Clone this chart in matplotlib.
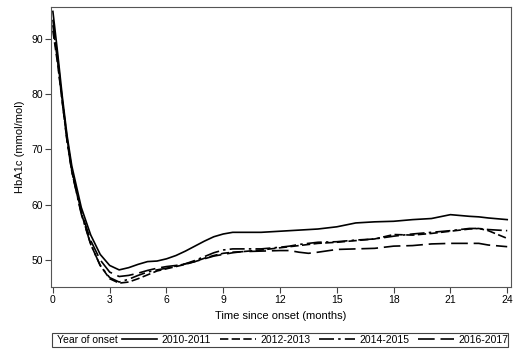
import numpy as np
import matplotlib.pyplot as plt
from matplotlib.patches import Rectangle

months = [0, 0.25, 0.5, 0.75, 1, 1.5, 2, 2.5, 3, 3.5, 4, 4.5, 5, 5.5, 6, 6.5, 7, 7.5,
          8, 8.5, 9, 9.5, 10, 11, 12, 12.5, 13, 13.5, 14, 15, 16, 17, 18, 19, 20, 21,
          22, 22.5, 23, 24]

hba1c_2010 = [95.0, 87.5, 79.5, 72.5, 67.0, 59.5, 54.5, 51.0, 49.0, 48.2, 48.6, 49.2,
              49.7, 49.8, 50.2, 50.8, 51.6, 52.5, 53.4, 54.2, 54.7, 55.0, 55.0, 55.0,
              55.2, 55.3, 55.4, 55.5, 55.6, 56.0, 56.7, 56.9, 57.0, 57.3, 57.5, 58.2,
              57.9, 57.8, 57.6, 57.3]
hba1c_2012 = [91.5, 85.5, 78.5, 71.5, 66.0, 58.5, 52.8, 49.0, 46.6, 45.8, 46.0, 46.6,
              47.3, 48.0, 48.4, 48.8, 49.2, 49.7, 50.3, 50.8, 51.2, 51.4, 51.5, 51.8,
              52.2, 52.4, 52.6, 52.8, 53.0, 53.2, 53.5, 53.8, 54.6, 54.5, 54.8, 55.2,
              55.6, 55.7, 55.3, 53.9]
hba1c_2014 = [92.5, 86.0, 78.5, 71.5, 66.0, 58.3, 52.8, 49.0, 46.8, 46.0, 46.5, 47.2,
              47.8, 48.2, 48.5, 48.9, 49.3, 49.9, 50.6, 51.3, 51.8, 52.0, 52.0, 52.0,
              52.3, 52.5, 52.8, 53.0, 53.2, 53.3, 53.6, 53.8, 54.3, 54.7, 55.0, 55.3,
              55.7, 55.7, 55.5, 55.3]
hba1c_2016 = [93.5, 86.5, 78.8, 72.0, 66.3, 58.7, 53.5, 50.0, 47.8, 47.0, 47.2, 47.6,
              48.1, 48.5, 48.8, 49.0, 49.3, 49.7, 50.2, 50.7, 51.0, 51.3, 51.5, 51.6,
              51.7, 51.7, 51.4, 51.2, 51.4, 51.9, 52.0, 52.1, 52.5, 52.6, 52.9, 53.0,
              53.0, 53.0, 52.7, 52.4]

groups = ['2010-2011', '2012-2013', '2014-2015', '2016-2017']
series = [hba1c_2010, hba1c_2012, hba1c_2014, hba1c_2016]
dashes = [(None, None), (5, 2), (9, 2.5, 1.5, 2.5), (10, 3.5)]

x_ticks = [0, 3, 6, 9, 12, 15, 18, 21, 24]
y_ticks = [50, 60, 70, 80, 90]

plt.rcParams['font.family'] = ['Liberation Sans', 'DejaVu Sans']

fig = plt.figure(figsize=(5.2, 3.54), dpi=100)
ax = fig.add_axes([51 / 520, 1 - 287 / 354, 460 / 520, 280 / 354])

for name, vals, d in zip(groups, series, dashes):
    if d[0] is None:
        ax.plot(months, vals, color='black', lw=1.2, label=name)
    else:
        ax.plot(months, vals, color='black', lw=1.2, dashes=d, label=name)

ax.set_xlim(-0.1, 24.2)
ax.set_ylim(45.1, 95.8)
ax.set_xticks(x_ticks)
ax.set_yticks(y_ticks)
ax.tick_params(labelsize=7.5, length=4, width=0.8, color='#444444', pad=2)
for s in ax.spines.values():
    s.set_color('#555555')
    s.set_linewidth(0.8)
ax.set_xlabel('Time since onset (months)', fontsize=8)
ax.set_ylabel('HbA1c (mmol/mol)', fontsize=8)

# legend box with the group title on the left
fig.patches.append(Rectangle((52 / 520, 1 - 347 / 354), 456 / 520, 14 / 354,
                             transform=fig.transFigure, fill=False,
                             edgecolor='#444444', lw=0.8))
fig.text(57 / 520, 1 - 340 / 354, 'Year of onset', fontsize=7.5, va='center', ha='left')
handles, labels = ax.get_legend_handles_labels()
fig.legend(handles, labels, ncol=4, frameon=False, fontsize=7.5,
           loc='center right', bbox_to_anchor=(508 / 520, 1 - 340 / 354),
           handlelength=3.4, handletextpad=0.4, columnspacing=0.9,
           borderpad=0, borderaxespad=0)

fig.savefig('out.png', dpi=100)
